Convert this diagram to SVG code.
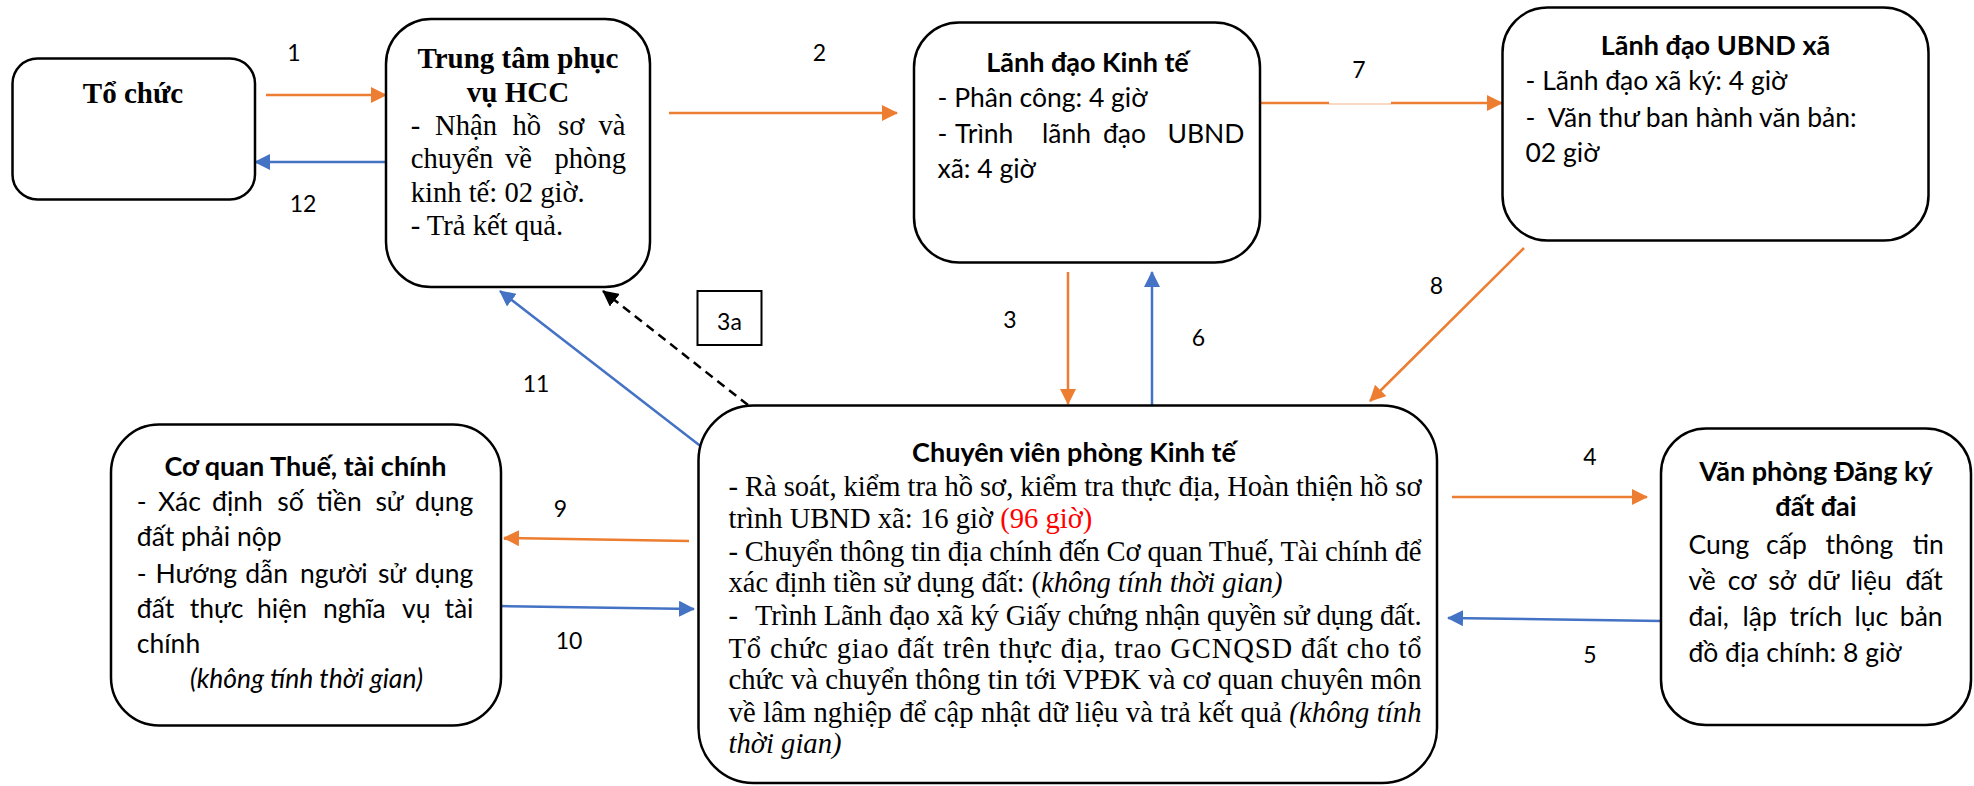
<svg xmlns="http://www.w3.org/2000/svg" width="1974" height="786" viewBox="0 0 1974 786">
<style>
.box{fill:#fff;stroke:#000;stroke-width:2.5}
.tr{font-family:'Liberation Serif','Times New Roman',serif;font-size:28.6px;fill:#000}
.trb{font-family:'Liberation Serif','Times New Roman',serif;font-size:29px;font-weight:bold;fill:#000;text-anchor:middle}
.sa{font-family:Lato,'Open Sans',sans-serif;font-size:26.5px;fill:#000}
.sb{font-family:Lato,'Open Sans',sans-serif;font-size:27px;font-weight:bold;fill:#000;text-anchor:middle}
.i{font-style:italic}
.c{text-anchor:middle}
.lbl{font-family:Lato,'Open Sans',sans-serif;font-size:23px;fill:#000;text-anchor:middle}
.or{stroke:#ED7D31;stroke-width:2.5;fill:none}
.bl{stroke:#4472C4;stroke-width:2.5;fill:none}
.dash{stroke:#000;stroke-width:2.5;fill:none;stroke-dasharray:9 6}
</style>
<defs>
<marker id="ao" markerUnits="userSpaceOnUse" markerWidth="16" markerHeight="16" viewBox="0 0 16 16" refX="15" refY="8" orient="auto"><path d="M0,0 L16,8 L0,16 z" fill="#ED7D31"/></marker>
<marker id="ab" markerUnits="userSpaceOnUse" markerWidth="16" markerHeight="16" viewBox="0 0 16 16" refX="15" refY="8" orient="auto"><path d="M0,0 L16,8 L0,16 z" fill="#4472C4"/></marker>
<marker id="ak" markerUnits="userSpaceOnUse" markerWidth="16" markerHeight="16" viewBox="0 0 16 16" refX="15" refY="8" orient="auto"><path d="M0,0 L16,8 L0,16 z" fill="#000"/></marker>
</defs>
<rect width="1974" height="786" fill="#fff"/>

<g id="connectors">
<line class="or" x1="266" y1="95" x2="386" y2="95" marker-end="url(#ao)"/>
<line class="bl" x1="386" y1="162" x2="255" y2="162" marker-end="url(#ab)"/>
<line class="or" x1="669" y1="113" x2="897" y2="113" marker-end="url(#ao)"/>
<line class="or" x1="1261" y1="103" x2="1329" y2="103"/>
<line x1="1329" y1="104" x2="1391" y2="104" stroke="#F4B183" stroke-width="1.2"/>
<line class="or" x1="1391" y1="103" x2="1502" y2="103" marker-end="url(#ao)"/>
<line class="or" x1="1068" y1="272" x2="1068" y2="404" marker-end="url(#ao)"/>
<line class="bl" x1="1152" y1="405" x2="1152" y2="272" marker-end="url(#ab)"/>
<line class="dash" x1="748" y1="405" x2="603" y2="291" marker-end="url(#ak)"/>
<line class="bl" x1="703" y1="448" x2="500" y2="291" marker-end="url(#ab)"/>
<line class="or" x1="1524" y1="248" x2="1370" y2="401" marker-end="url(#ao)"/>
<line class="or" x1="1452" y1="497" x2="1647" y2="497" marker-end="url(#ao)"/>
<line class="bl" x1="1662" y1="621" x2="1448" y2="618" marker-end="url(#ab)"/>
<line class="or" x1="689" y1="541" x2="504" y2="538" marker-end="url(#ao)"/>
<line class="bl" x1="498" y1="606" x2="694" y2="609" marker-end="url(#ab)"/>
<rect x="697.5" y="291" width="64" height="54" fill="#fff" stroke="#000" stroke-width="2"/>
<text class="lbl" x="729.5" y="330">3a</text>
<text class="lbl" x="294" y="61">1</text>
<text class="lbl" x="303" y="212">12</text>
<text class="lbl" x="819.5" y="61">2</text>
<text class="lbl" x="1359" y="78">7</text>
<text class="lbl" x="1010" y="328">3</text>
<text class="lbl" x="1198.5" y="346">6</text>
<text class="lbl" x="536" y="392">11</text>
<text class="lbl" x="1436.5" y="294">8</text>
<text class="lbl" x="1590" y="465">4</text>
<text class="lbl" x="1590" y="663">5</text>
<text class="lbl" x="560.5" y="517">9</text>
<text class="lbl" x="569" y="649">10</text>
</g>

<g id="to-chuc">
<rect class="box" x="12.5" y="58.5" width="242.5" height="141" rx="25"/>
<text class="trb" x="133" y="102.5">Tổ chức</text>
</g>

<g id="trung-tam">
<rect class="box" x="386" y="19" width="264" height="268" rx="45"/>
<text class="trb" x="518" y="68">Trung tâm phục</text>
<text class="trb" x="518" y="101.5">vụ HCC</text>
<text class="tr" y="135"><tspan x="410.7">-</tspan><tspan x="435">Nhận</tspan><tspan x="512.5">hồ</tspan><tspan x="558">sơ</tspan><tspan x="598.5">và</tspan></text>
<text class="tr" y="168"><tspan x="410.7">chuyển</tspan><tspan x="505">về</tspan><tspan x="554.5">phòng</tspan></text>
<text class="tr" x="410.7" y="201.5">kinh tế: 02 giờ.</text>
<text class="tr" x="410.7" y="235">- Trả kết quả.</text>
</g>

<g id="lanh-dao-kinh-te">
<rect class="box" x="914" y="22.5" width="346" height="240" rx="45"/>
<text class="sb" x="1087.5" y="71.5">Lãnh đạo Kinh tế</text>
<text class="sa" x="937.5" y="106.5">- Phân công: 4 giờ</text>
<text class="sa" y="143"><tspan x="937.5">-</tspan><tspan x="955">Trình</tspan><tspan x="1042">lãnh</tspan><tspan x="1103">đạo</tspan><tspan x="1167.5">UBND</tspan></text>
<text class="sa" x="937.5" y="178">xã: 4 giờ</text>
</g>

<g id="lanh-dao-ubnd">
<rect class="box" x="1502.5" y="7.5" width="426" height="233" rx="45"/>
<text class="sb" x="1715.5" y="55">Lãnh đạo UBND xã</text>
<text class="sa" x="1525.5" y="90">- Lãnh đạo xã ký: 4 giờ</text>
<text class="sa" y="127"><tspan x="1525.5">-</tspan><tspan x="1547.8">Văn thư ban hành văn bản:</tspan></text>
<text class="sa" x="1525.5" y="162">02 giờ</text>
</g>

<g id="chuyen-vien">
<rect class="box" x="698.5" y="405.5" width="738.5" height="377.5" rx="55"/>
<text class="sb" x="1074" y="461.5">Chuyên viên phòng Kinh tế</text>
<text class="tr" x="728.5" y="496" textLength="693" lengthAdjust="spacing">- Rà soát, kiểm tra hồ sơ, kiểm tra thực địa, Hoàn thiện hồ sơ</text>
<text class="tr" x="728.5" y="527.5">trình UBND xã: 16 giờ <tspan fill="#FF0000">(96 giờ)</tspan></text>
<text class="tr" x="728.5" y="560.5" textLength="693" lengthAdjust="spacing">- Chuyển thông tin địa chính đến Cơ quan Thuế, Tài chính để</text>
<text class="tr" x="728.5" y="592">xác định tiền sử dụng đất: (<tspan class="i">không tính thời gian)</tspan></text>
<text class="tr" x="728.5" y="625">-</text>
<text class="tr" x="755" y="625" textLength="666.6" lengthAdjust="spacing">Trình Lãnh đạo xã ký Giấy chứng nhận quyền sử dụng đất.</text>
<text class="tr" x="728.5" y="657.5" textLength="693" lengthAdjust="spacing">Tổ chức giao đất trên thực địa, trao GCNQSD đất cho tổ</text>
<text class="tr" x="728.5" y="689" textLength="693" lengthAdjust="spacing">chức và chuyển thông tin tới VPĐK và cơ quan chuyên môn</text>
<text class="tr" x="728.5" y="721.5" textLength="693" lengthAdjust="spacing">về lâm nghiệp để cập nhật dữ liệu và trả kết quả <tspan class="i">(không tính</tspan></text>
<text class="tr i" x="728.5" y="753">thời gian)</text>
</g>

<g id="co-quan-thue">
<rect class="box" x="111" y="424.5" width="390" height="301" rx="48"/>
<text class="sb" x="305.5" y="476">Cơ quan Thuế, tài chính</text>
<text class="sa" y="510.5"><tspan x="136.8">-</tspan><tspan x="158.1">Xác</tspan><tspan x="212.1">định</tspan><tspan x="277.3">số</tspan><tspan x="316.6">tiền</tspan><tspan x="375.4">sử</tspan><tspan x="415.1">dụng</tspan></text>
<text class="sa" x="136.8" y="546">đất phải nộp</text>
<text class="sa" y="582.5"><tspan x="136.8">-</tspan><tspan x="155.6">Hướng</tspan><tspan x="245.2">dẫn</tspan><tspan x="299.9">người</tspan><tspan x="377.9">sử</tspan><tspan x="415.1">dụng</tspan></text>
<text class="sa" y="618"><tspan x="136.8">đất</tspan><tspan x="189.8">thực</tspan><tspan x="257">hiện</tspan><tspan x="322.9">nghĩa</tspan><tspan x="402">vụ</tspan><tspan x="444.4">tài</tspan></text>
<text class="sa" x="136.8" y="653">chính</text>
<text class="sa i c" x="306.5" y="688">(không tính thời gian)</text>
</g>

<g id="van-phong-dang-ky">
<rect class="box" x="1661" y="428.5" width="310" height="296.5" rx="45"/>
<text class="sb" x="1816" y="480.5">Văn phòng Đăng ký</text>
<text class="sb" x="1816" y="515.5">đất đai</text>
<text class="sa" y="553.5"><tspan x="1688.4">Cung</tspan><tspan x="1766.1">cấp</tspan><tspan x="1825.4">thông</tspan><tspan x="1912.7">tin</tspan></text>
<text class="sa" y="589.5"><tspan x="1688.4">về</tspan><tspan x="1727.8">cơ</tspan><tspan x="1768.2">sở</tspan><tspan x="1807.6">dữ</tspan><tspan x="1850.4">liệu</tspan><tspan x="1905.4">đất</tspan></text>
<text class="sa" y="625.5"><tspan x="1688.4">đai,</tspan><tspan x="1742.6">lập</tspan><tspan x="1789.4">trích</tspan><tspan x="1854.6">lục</tspan><tspan x="1899.8">bản</tspan></text>
<text class="sa" x="1688.4" y="662">đồ địa chính: 8 giờ</text>
</g>
</svg>
